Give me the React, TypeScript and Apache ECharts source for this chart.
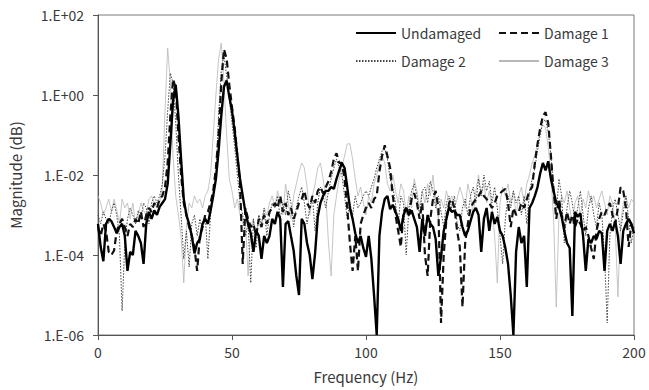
import React, { useEffect, useRef } from "react";
import * as echarts from "echarts";

// Frequency resolution of the sampled spectra (Hz per sample), first sample at 0 Hz
const FREQ_STEP_HZ = 1;

const SERIES_NAMES = ["Undamaged", "Damage 1", "Damage 2", "Damage 3"];
const X_TICKS = [0, 50, 100, 150, 200];
const Y_TICK_LABELS = ["1.E-06", "1.E-04", "1.E-02", "1.E+00", "1.E+02"];

const UNDAMAGED = [
  6e-4, 1.6e-4, 7e-5, 6e-4, 8e-4, 7e-4, 5e-4, 3.5e-4, 5e-4, 6e-4,
  3e-4, 4e-5, 1.2e-4, 1e-4, 4e-4, 3e-4, 2e-4, 6e-5, 6e-4, 1.2e-3,
  8e-4, 1.3e-3, 1e-3, 1.6e-3, 2e-3, 2.5e-3, 6e-3, 6e-2, 0.7, 1.8,
  0.3, 2.5e-2, 2.5e-3, 1e-3, 6e-4, 3e-4, 1.1e-4, 2e-4, 2.5e-4, 6e-4,
  8e-4, 6e-4, 1.3e-3, 3e-3, 8e-3, 4e-2, 0.3, 1.6, 2.3, 0.9,
  0.4, 0.12, 3e-2, 8e-3, 3e-3, 1.2e-3, 6e-4, 3.5e-4, 1.2e-4, 4e-4,
  3e-4, 8e-5, 3e-4, 2e-4, 3e-4, 8e-4, 6e-4, 1.2e-3, 8e-4, 1.6e-5,
  6e-4, 7e-4, 3e-4, 1.3e-4, 3e-5, 1e-5, 8e-4, 6e-4, 2e-4, 1e-4,
  2.5e-5, 1.1e-4, 9e-4, 2e-3, 3e-3, 4e-3, 4e-3, 5e-3, 4.5e-3, 8e-3,
  1.3e-2, 2e-2, 1.5e-2, 5e-3, 1.5e-3, 8e-4, 3.5e-4, 2e-4, 3e-4, 1.5e-4,
  9e-5, 3e-4, 8e-5, 1e-5, 1e-6, 3e-4, 1.2e-3, 2.5e-3, 3e-3, 1.4e-3,
  1.8e-3, 1.2e-3, 8e-4, 4e-4, 1e-3, 1.5e-3, 1e-3, 1.3e-3, 8e-4, 5e-4,
  1.2e-4, 8e-4, 3e-4, 1e-3, 6e-4, 5e-4, 2.5e-4, 3e-5, 9e-5, 4e-4,
  8e-4, 1.6e-3, 1.2e-3, 1.3e-3, 1e-3, 1e-3, 5e-4, 3e-4, 4e-4, 7e-4,
  1.2e-3, 1.5e-3, 1e-3, 1.2e-4, 8e-4, 1.5e-3, 4e-4, 1.2e-3, 6e-4, 9e-4,
  4e-4, 3e-4, 1.5e-4, 6e-5, 1e-5, 1e-6, 1.2e-4, 5e-4, 2e-4, 3e-4,
  1.6e-5, 1.5e-3, 2e-3, 3e-3, 5e-3, 1.1e-2, 2e-2, 1.3e-2, 2.2e-2, 8e-3,
  4e-3, 2e-3, 1.6e-3, 9e-4, 4e-4, 2e-4, 1.5e-4, 3e-6, 1.2e-3, 9e-4,
  1.1e-3, 3e-4, 4e-5, 2.5e-4, 2e-4, 3e-4, 2.5e-4, 4e-4, 3.5e-4, 4e-5,
  4e-4, 6e-4, 4e-4, 7e-4, 3e-4, 6e-5, 4e-4, 6e-4, 8e-4, 6e-4, 3.5e-4,
];

const DAMAGE_1 = [
  5e-4, 3e-4, 6e-4, 4e-4, 1.2e-4, 1e-4, 1.3e-4, 4e-4, 6e-4, 8e-4,
  5e-4, 3e-4, 6e-4, 5e-4, 8e-4, 6e-4, 1.2e-3, 5e-4, 1e-3, 1.5e-3,
  1.2e-3, 2e-3, 1.5e-3, 2.5e-3, 3e-3, 5e-3, 2e-2, 0.3, 2.5, 1.5,
  0.1, 1e-2, 2e-3, 1e-3, 5e-4, 3e-4, 1.5e-4, 4e-5, 3e-4, 5e-4,
  1e-3, 1.2e-3, 2e-3, 4e-3, 1.5e-2, 0.1, 2, 14, 8, 1.8,
  0.5, 0.15, 3e-2, 6e-3, 6e-5, 1.5e-3, 8e-4, 5e-4, 6e-4, 3e-4,
  8e-4, 5e-4, 1e-3, 6e-4, 1.2e-3, 1.5e-3, 2e-3, 1.5e-3, 3e-3, 1.2e-3,
  2e-3, 1e-3, 1.5e-3, 8e-4, 1.2e-3, 2e-3, 2.5e-3, 4e-3, 2e-3, 1.5e-3,
  3e-3, 2e-3, 4e-3, 5e-3, 3.5e-3, 5e-3, 7e-3, 1.2e-2, 2.5e-2, 3.5e-2,
  2e-2, 2e-2, 8e-3, 1.5e-3, 2e-4, 4e-5, 3e-4, 4e-5, 6e-4, 1e-3,
  1.5e-3, 2e-3, 1.5e-3, 2.5e-3, 3e-3, 1.2e-2, 3e-2, 5.5e-2, 3e-2, 1.5e-2,
  3e-3, 1e-3, 4e-4, 1.6e-4, 1.2e-3, 1.5e-3, 1e-3, 2.5e-3, 3.5e-3, 2e-3,
  8e-4, 2e-3, 1e-4, 3e-5, 8e-4, 2.5e-3, 4e-3, 1.5e-3, 2e-6, 1e-4,
  8e-4, 2e-3, 2.5e-3, 1.5e-3, 4e-4, 1.6e-4, 5e-6, 2e-4, 6e-4, 1.5e-3,
  2e-3, 2.5e-3, 3e-3, 4e-3, 3e-3, 2.5e-3, 2e-3, 1.5e-3, 2e-3, 3e-3,
  3.5e-3, 4e-3, 4.5e-3, 2e-3, 5e-4, 1.5e-3, 1e-3, 1.2e-3, 2e-3, 1.5e-3,
  2.5e-3, 4e-3, 5e-3, 2e-2, 6e-2, 0.15, 0.3, 0.37, 0.2, 0.03,
  4e-3, 8e-4, 2.5e-3, 1e-3, 5e-4, 1.2e-3, 6e-4, 1e-3, 5e-4, 8e-4,
  6e-4, 4e-4, 5e-4, 3e-4, 1.5e-4, 8e-5, 4e-4, 8e-4, 1.2e-3, 1e-3,
  1.5e-3, 2e-3, 1e-3, 6e-4, 1.5e-3, 5e-3, 4e-3, 1.5e-3, 1.6e-4, 6e-4, 4e-4,
];

const DAMAGE_2 = [
  1e-3, 6e-4, 1.2e-3, 8e-4, 6e-4, 1.2e-3, 2e-3, 1e-3, 3e-4, 4e-6,
  2e-4, 8e-4, 1.5e-3, 1e-3, 6e-4, 1.3e-3, 8e-4, 2e-3, 1.5e-3, 6e-4,
  2e-3, 3e-3, 2e-3, 3e-3, 6e-3, 3e-2, 0.4, 3.5, 2, 0.2,
  1e-2, 1e-3, 8e-5, 4e-4, 5e-5, 6e-4, 1e-3, 3e-4, 8e-4, 4e-4,
  1e-3, 8e-5, 1e-3, 3e-3, 1e-2, 0.3, 4, 10, 3, 0.8,
  0.2, 5e-2, 1e-2, 2e-3, 1e-3, 3e-4, 6e-4, 2e-5, 8e-4, 1.5e-4,
  1e-3, 6e-4, 1.5e-3, 3e-4, 1e-3, 2e-3, 1.5e-3, 3e-3, 8e-4, 2e-3,
  1e-3, 4e-3, 2e-3, 5e-4, 1.5e-3, 3e-3, 5e-3, 2e-3, 6e-4, 1.5e-3,
  3e-3, 4e-4, 2e-3, 5e-3, 3e-3, 1.5e-3, 4e-3, 8e-3, 1.5e-2, 2.5e-2,
  1.5e-2, 1e-2, 3e-3, 8e-4, 2e-3, 1e-3, 3e-3, 1.5e-3, 2e-3, 3e-3,
  4e-3, 3e-3, 5e-3, 8e-3, 1.5e-2, 2.5e-2, 4e-2, 4.5e-2, 2.5e-2, 8e-3,
  5e-3, 2e-3, 6e-4, 3e-3, 2e-3, 1e-4, 1.5e-3, 4e-3, 6e-3, 3e-3,
  1e-3, 4e-3, 5e-3, 2e-3, 7e-3, 4e-3, 1.5e-3, 3e-3, 1.2e-3, 5e-4,
  2e-3, 3e-3, 1.5e-3, 3e-3, 6e-4, 4e-4, 1.5e-3, 2.5e-3, 1e-3, 3e-3,
  5e-3, 2e-3, 8e-3, 3e-3, 1e-2, 4e-3, 7e-3, 2e-3, 5e-3, 1.5e-3,
  3e-4, 6e-5, 8e-4, 3e-3, 1.5e-3, 4e-3, 2e-3, 3e-3, 1e-3, 3e-3,
  6e-4, 4e-3, 8e-3, 1.5e-2, 4e-2, 0.1, 0.22, 0.24, 0.12, 3e-2,
  5e-3, 1e-3, 8e-3, 3e-3, 2e-4, 1.5e-3, 4e-3, 2e-3, 6e-4, 1.5e-3,
  4e-3, 1e-3, 3e-4, 1.5e-3, 3e-3, 1e-3, 5e-4, 2e-3, 1e-3, 1e-4,
  2e-6, 3e-4, 1.5e-3, 2.5e-3, 1e-3, 4e-4, 1.2e-3, 3e-3, 8e-4, 2e-4, 5e-4,
];

const DAMAGE_3 = [
  3e-3, 2e-3, 1e-3, 1.5e-3, 2.5e-3, 1.2e-3, 2.5e-3, 1.3e-3, 6e-4, 2.5e-3,
  1.5e-3, 2e-3, 8e-4, 2e-3, 6e-4, 1e-3, 2e-3, 1.3e-3, 1e-3, 2.5e-3,
  3e-3, 2e-3, 1.5e-3, 2e-3, 5e-3, 0.4, 15, 2, 3e-2, 3e-3,
  1e-3, 3e-4, 2e-5, 5e-4, 2e-3, 1.5e-3, 3e-3, 2e-3, 2.5e-3, 1.5e-3,
  3e-3, 4e-3, 1e-2, 0.1, 1, 8, 20, 2, 0.1, 8e-3,
  4e-3, 1.5e-3, 2.5e-3, 1e-3, 6e-4, 8e-4, 3e-5, 5e-4, 8e-4, 3e-4,
  1e-3, 5e-4, 1.5e-3, 1e-3, 2e-3, 3e-3, 1.5e-3, 4e-3, 2e-3, 1e-3,
  6e-3, 2e-3, 8e-4, 3e-3, 6e-3, 1.2e-2, 2e-2, 1.5e-2, 5e-3, 1e-3,
  3e-3, 6e-3, 1.5e-2, 2e-2, 8e-3, 3e-3, 2e-4, 3e-5, 1e-3, 3e-3,
  8e-3, 1.5e-2, 3e-2, 6e-2, 6e-2, 2.5e-2, 8e-3, 3e-3, 5e-3, 2e-3,
  1e-3, 3e-3, 2e-3, 6e-3, 1e-2, 2e-2, 3e-2, 2e-2, 6e-3, 4e-3,
  1e-2, 4e-3, 2e-3, 6e-3, 4e-3, 1e-3, 3e-3, 1.5e-3, 8e-3, 4e-3,
  1.5e-3, 4e-3, 2e-3, 6e-3, 3e-3, 1e-2, 2e-3, 8e-4, 2.5e-3, 1.5e-3,
  4e-3, 2e-3, 3e-3, 1.5e-3, 2.5e-3, 5e-3, 3e-3, 1.5e-3, 6e-3, 3e-3,
  1e-3, 4e-3, 1e-2, 3e-3, 6e-3, 2e-3, 4e-3, 1.5e-3, 3e-4, 2e-5,
  2e-3, 5e-3, 3e-3, 6e-3, 2e-3, 4e-3, 1e-3, 3e-3, 5e-3, 2e-3,
  6e-3, 1e-2, 2e-2, 3e-2, 6e-2, 0.12, 0.18, 0.15, 5e-2, 1e-2,
  8e-4, 5e-6, 1e-3, 3e-3, 2e-3, 4e-3, 1.5e-3, 6e-4, 2e-3, 3e-3,
  1e-3, 2.5e-3, 1.5e-3, 4e-3, 2e-3, 3e-3, 1.5e-3, 2.5e-3, 4e-3, 2e-3,
  1e-3, 3e-3, 2e-3, 5e-4, 9e-6, 6e-4, 2e-3, 3e-3, 1.5e-3, 2.5e-3, 2e-3,
];

const FONT = "'Noto Sans CJK KR', 'Noto Sans', 'Open Sans', sans-serif";
const TEXT_COLOR = "#3a3a3a";

function toPairs(values: number[]) {
  return values.map((v, i) => [i * FREQ_STEP_HZ, v]);
}

function yLabel(v: number) {
  const e = Math.round(Math.log10(v));
  const idx = e / 2 + 3;
  if (Number.isInteger(idx) && Y_TICK_LABELS[idx]) return Y_TICK_LABELS[idx];
  return "1.E" + (e < 0 ? "-" : "+") + String(Math.abs(e)).padStart(2, "0");
}

export default function App() {
  const ref = useRef<HTMLDivElement>(null);

  useEffect(() => {
    if (!ref.current) return;
    const chart = echarts.init(ref.current, null, { renderer: "svg" });

    const legendCommon = {
      orient: "horizontal",
      padding: 0,
      itemWidth: 40,
      itemHeight: 14,
      selectedMode: false,
      itemStyle: { opacity: 0, borderWidth: 0 },
      textStyle: { fontFamily: FONT, fontSize: 14, color: TEXT_COLOR },
    };

    chart.setOption({
      animation: false,
      backgroundColor: "#ffffff",
      textStyle: { fontFamily: FONT },
      grid: {
        left: 97,
        right: 15,
        top: 15,
        bottom: 55,
        show: true,
        borderColor: "#7a7a7a",
        borderWidth: 1,
        backgroundColor: "transparent",
      },
      legend: [
        { ...legendCommon, data: [SERIES_NAMES[0]], left: 355, top: 26 },
        { ...legendCommon, data: [SERIES_NAMES[1]], left: 498, top: 26 },
        { ...legendCommon, data: [SERIES_NAMES[2]], left: 355, top: 54 },
        { ...legendCommon, data: [SERIES_NAMES[3]], left: 498, top: 54 },
      ],
      xAxis: {
        type: "value",
        min: X_TICKS[0],
        max: X_TICKS[X_TICKS.length - 1],
        interval: X_TICKS[1] - X_TICKS[0],
        name: "Frequency (Hz)",
        nameLocation: "middle",
        nameGap: 34,
        nameTextStyle: { fontFamily: FONT, fontSize: 15, color: TEXT_COLOR },
        axisLine: { show: true, lineStyle: { color: "#555555", width: 1 } },
        axisTick: { show: true, inside: false, length: 5, lineStyle: { color: "#555555" } },
        axisLabel: { fontFamily: FONT, fontSize: 14, color: TEXT_COLOR, margin: 10 },
        splitLine: { show: false },
      },
      yAxis: {
        type: "log",
        logBase: 10,
        min: 1e-6,
        max: 1e2,
        interval: 2,
        name: "Magnitude (dB)",
        nameLocation: "middle",
        nameGap: 75,
        nameTextStyle: { fontFamily: FONT, fontSize: 15, color: TEXT_COLOR },
        axisLine: { show: true, lineStyle: { color: "#555555", width: 1 } },
        axisTick: { show: true, inside: false, length: 5, lineStyle: { color: "#555555" } },
        axisLabel: {
          fontFamily: FONT,
          fontSize: 14,
          color: TEXT_COLOR,
          margin: 14,
          formatter: (v: number) => yLabel(v),
        },
        splitLine: { show: false },
        minorTick: { show: false },
      },
      series: [
        {
          name: SERIES_NAMES[3],
          type: "line",
          data: toPairs(DAMAGE_3),
          showSymbol: false,
          symbol: "none",
          lineStyle: { color: "#b8b8b8", width: 0.8, type: "solid" },
          itemStyle: { color: "#b8b8b8" },
          z: 2,
        },
        {
          name: SERIES_NAMES[2],
          type: "line",
          data: toPairs(DAMAGE_2),
          showSymbol: false,
          symbol: "none",
          lineStyle: { color: "#444444", width: 1, type: [1.5, 1.5] },
          itemStyle: { color: "#444444" },
          z: 3,
        },
        {
          name: SERIES_NAMES[1],
          type: "line",
          data: toPairs(DAMAGE_1),
          showSymbol: false,
          symbol: "none",
          lineStyle: { color: "#111111", width: 2.2, type: [7, 4] },
          itemStyle: { color: "#111111" },
          z: 4,
        },
        {
          name: SERIES_NAMES[0],
          type: "line",
          data: toPairs(UNDAMAGED),
          showSymbol: false,
          symbol: "none",
          lineStyle: { color: "#000000", width: 2.4, type: "solid" },
          itemStyle: { color: "#000000" },
          z: 5,
        },
      ],
    });

    return () => {
      chart.dispose();
    };
  }, []);

  return (
    <div
      ref={ref}
      style={{ position: "fixed", left: 0, top: 0, width: 649, height: 390, background: "#ffffff" }}
    />
  );
}
